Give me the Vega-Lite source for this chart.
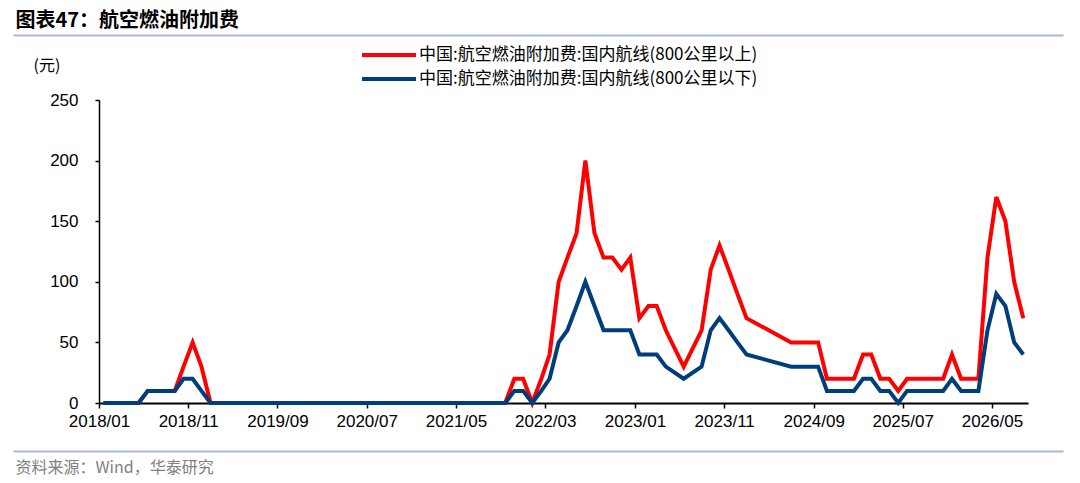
{
  "$schema": "https://vega.github.io/schema/vega-lite/v6.json",
  "width": 929,
  "height": 303,
  "autosize": {"type": "none"},
  "padding": {"left": 99, "top": 100, "right": 52, "bottom": 80},
  "background": "white",
  "config": {
    "font": "Liberation Sans, Noto Sans CJK SC",
    "view": {"stroke": null},
    "axis": {"grid": false}
  },
  "data": {
    "values": [
      {"d": "2018/01/16", "a": 0, "b": 0},
      {"d": "2018/02/16", "a": 0, "b": 0},
      {"d": "2018/03/16", "a": 0, "b": 0},
      {"d": "2018/04/16", "a": 0, "b": 0},
      {"d": "2018/05/16", "a": 0, "b": 0},
      {"d": "2018/06/16", "a": 10, "b": 10},
      {"d": "2018/07/16", "a": 10, "b": 10},
      {"d": "2018/08/16", "a": 10, "b": 10},
      {"d": "2018/09/16", "a": 10, "b": 10},
      {"d": "2018/10/16", "a": 30, "b": 20},
      {"d": "2018/11/16", "a": 50, "b": 20},
      {"d": "2018/12/16", "a": 30, "b": 10},
      {"d": "2019/01/16", "a": 0, "b": 0},
      {"d": "2019/02/16", "a": 0, "b": 0},
      {"d": "2019/03/16", "a": 0, "b": 0},
      {"d": "2019/04/16", "a": 0, "b": 0},
      {"d": "2019/05/16", "a": 0, "b": 0},
      {"d": "2019/06/16", "a": 0, "b": 0},
      {"d": "2019/07/16", "a": 0, "b": 0},
      {"d": "2019/08/16", "a": 0, "b": 0},
      {"d": "2019/09/16", "a": 0, "b": 0},
      {"d": "2019/10/16", "a": 0, "b": 0},
      {"d": "2019/11/16", "a": 0, "b": 0},
      {"d": "2019/12/16", "a": 0, "b": 0},
      {"d": "2020/01/16", "a": 0, "b": 0},
      {"d": "2020/02/16", "a": 0, "b": 0},
      {"d": "2020/03/16", "a": 0, "b": 0},
      {"d": "2020/04/16", "a": 0, "b": 0},
      {"d": "2020/05/16", "a": 0, "b": 0},
      {"d": "2020/06/16", "a": 0, "b": 0},
      {"d": "2020/07/16", "a": 0, "b": 0},
      {"d": "2020/08/16", "a": 0, "b": 0},
      {"d": "2020/09/16", "a": 0, "b": 0},
      {"d": "2020/10/16", "a": 0, "b": 0},
      {"d": "2020/11/16", "a": 0, "b": 0},
      {"d": "2020/12/16", "a": 0, "b": 0},
      {"d": "2021/01/16", "a": 0, "b": 0},
      {"d": "2021/02/16", "a": 0, "b": 0},
      {"d": "2021/03/16", "a": 0, "b": 0},
      {"d": "2021/04/16", "a": 0, "b": 0},
      {"d": "2021/05/16", "a": 0, "b": 0},
      {"d": "2021/06/16", "a": 0, "b": 0},
      {"d": "2021/07/16", "a": 0, "b": 0},
      {"d": "2021/08/16", "a": 0, "b": 0},
      {"d": "2021/09/16", "a": 0, "b": 0},
      {"d": "2021/10/16", "a": 0, "b": 0},
      {"d": "2021/11/16", "a": 20, "b": 10},
      {"d": "2021/12/16", "a": 20, "b": 10},
      {"d": "2022/01/16", "a": 0, "b": 0},
      {"d": "2022/02/16", "a": 20, "b": 10},
      {"d": "2022/03/16", "a": 40, "b": 20},
      {"d": "2022/04/16", "a": 100, "b": 50},
      {"d": "2022/05/16", "a": 120, "b": 60},
      {"d": "2022/06/16", "a": 140, "b": 80},
      {"d": "2022/07/16", "a": 200, "b": 100},
      {"d": "2022/08/16", "a": 140, "b": 80},
      {"d": "2022/09/16", "a": 120, "b": 60},
      {"d": "2022/10/16", "a": 120, "b": 60},
      {"d": "2022/11/16", "a": 110, "b": 60},
      {"d": "2022/12/16", "a": 120, "b": 60},
      {"d": "2023/01/16", "a": 70, "b": 40},
      {"d": "2023/02/16", "a": 80, "b": 40},
      {"d": "2023/03/16", "a": 80, "b": 40},
      {"d": "2023/04/16", "a": 60, "b": 30},
      {"d": "2023/06/16", "a": 30, "b": 20},
      {"d": "2023/08/16", "a": 60, "b": 30},
      {"d": "2023/09/16", "a": 110, "b": 60},
      {"d": "2023/10/16", "a": 130, "b": 70},
      {"d": "2023/11/16", "a": 110, "b": 60},
      {"d": "2023/12/16", "a": 90, "b": 50},
      {"d": "2024/01/16", "a": 70, "b": 40},
      {"d": "2024/06/16", "a": 50, "b": 30},
      {"d": "2024/07/16", "a": 50, "b": 30},
      {"d": "2024/08/16", "a": 50, "b": 30},
      {"d": "2024/09/16", "a": 50, "b": 30},
      {"d": "2024/10/16", "a": 20, "b": 10},
      {"d": "2024/11/16", "a": 20, "b": 10},
      {"d": "2024/12/16", "a": 20, "b": 10},
      {"d": "2025/01/16", "a": 20, "b": 10},
      {"d": "2025/02/16", "a": 40, "b": 20},
      {"d": "2025/03/16", "a": 40, "b": 20},
      {"d": "2025/04/16", "a": 20, "b": 10},
      {"d": "2025/05/16", "a": 20, "b": 10},
      {"d": "2025/06/16", "a": 10, "b": 0},
      {"d": "2025/07/16", "a": 20, "b": 10},
      {"d": "2025/08/16", "a": 20, "b": 10},
      {"d": "2025/09/16", "a": 20, "b": 10},
      {"d": "2025/10/16", "a": 20, "b": 10},
      {"d": "2025/11/16", "a": 20, "b": 10},
      {"d": "2025/12/16", "a": 40, "b": 20},
      {"d": "2026/01/16", "a": 20, "b": 10},
      {"d": "2026/02/16", "a": 20, "b": 10},
      {"d": "2026/03/16", "a": 20, "b": 10},
      {"d": "2026/04/16", "a": 120, "b": 60},
      {"d": "2026/05/16", "a": 170, "b": 90},
      {"d": "2026/06/16", "a": 150, "b": 80},
      {"d": "2026/07/16", "a": 100, "b": 50},
      {"d": "2026/08/16", "a": 70, "b": 40}
    ]
  },
  "transform": [{"fold": ["a", "b"], "as": ["series", "value"]}],
  "layer": [
    {
      "mark": {"type": "line", "strokeWidth": 4},
      "encoding": {
        "x": {
          "field": "d",
          "type": "temporal",
          "scale": {
            "domain": [
              {"year": 2018, "month": 1, "date": 1},
              {"year": 2026, "month": 9, "date": 1}
            ]
          },
          "axis": {
            "orient": "bottom",
            "title": null,
            "format": "%Y/%m",
            "values": [
              {"year": 2018, "month": 1, "date": 1},
              {"year": 2018, "month": 11, "date": 1},
              {"year": 2019, "month": 9, "date": 1},
              {"year": 2020, "month": 7, "date": 1},
              {"year": 2021, "month": 5, "date": 1},
              {"year": 2022, "month": 3, "date": 1},
              {"year": 2023, "month": 1, "date": 1},
              {"year": 2023, "month": 11, "date": 1},
              {"year": 2024, "month": 9, "date": 1},
              {"year": 2025, "month": 7, "date": 1},
              {"year": 2026, "month": 5, "date": 1}
            ],
            "labelFont": "Liberation Sans",
            "labelFontSize": 17,
            "labelColor": "#000",
            "labelPadding": 5,
            "labelFlush": false,
            "labelOverlap": false,
            "tickColor": "#000",
            "tickSize": 5,
            "tickWidth": 1.5,
            "domainColor": "#000",
            "domainWidth": 2
          }
        },
        "y": {
          "field": "value",
          "type": "quantitative",
          "scale": {"domain": [0, 250], "nice": false},
          "axis": {
            "title": "(元)",
            "titleAngle": 0,
            "titleX": -66,
            "titleY": -35,
            "titleAlign": "left",
            "titleBaseline": "middle",
            "titleFontWeight": "normal",
            "titleFontSize": 16,
            "titleColor": "#000",
            "titleFont": "Noto Sans CJK SC",
            "values": [0, 50, 100, 150, 200, 250],
            "labelFont": "Liberation Sans",
            "labelFontSize": 17,
            "labelColor": "#000",
            "labelPadding": 17,
            "tickColor": "#000",
            "tickSize": 4,
            "tickWidth": 1.5,
            "domainColor": "#000",
            "domainWidth": 1.5
          }
        },
        "color": {
          "field": "series",
          "type": "nominal",
          "scale": {"domain": ["a", "b"], "range": ["#ff0000", "#003d7c"]},
          "legend": {
            "orient": "none",
            "legendX": 278,
            "legendY": -57,
            "title": null,
            "symbolType": "M-2.7,0H2.7",
            "symbolSize": 400,
            "symbolStrokeWidth": 4,
            "symbolFillColor": "transparent",
            "labelFont": "Noto Sans CJK SC",
            "labelFontSize": 17,
            "labelColor": "#000",
            "labelOffset": 18,
            "labelLimit": 500,
            "rowPadding": 4,
            "labelExpr": "datum.label == 'a' ? '中国:航空燃油附加费:国内航线(800公里以上)' : '中国:航空燃油附加费:国内航线(800公里以下)'"
          }
        }
      }
    },
    {
      "mark": {"type": "point", "opacity": 0},
      "encoding": {
        "x": {
          "field": "d",
          "type": "temporal",
          "scale": {"range": [-86, 964]},
          "axis": {
            "orient": "top",
            "offset": 65,
            "labels": false,
            "ticks": false,
            "domainColor": "#a9bcd5",
            "domainWidth": 2,
            "title": "图表47：航空燃油附加费",
            "titleX": -84,
            "titleY": -15,
            "titleAlign": "left",
            "titleBaseline": "middle",
            "titleFont": "Noto Sans CJK SC",
            "titleFontSize": 20,
            "titleFontWeight": "bold",
            "titleColor": "#000"
          }
        }
      }
    },
    {
      "mark": {"type": "point", "opacity": 0},
      "encoding": {
        "x": {
          "field": "d",
          "type": "temporal",
          "scale": {"range": [-86, 964]},
          "axis": {
            "orient": "bottom",
            "offset": 48,
            "labels": false,
            "ticks": false,
            "domainColor": "#a9bcd5",
            "domainWidth": 2,
            "title": "资料来源：Wind，华泰研究",
            "titleX": -84,
            "titleY": 16,
            "titleAlign": "left",
            "titleBaseline": "middle",
            "titleFont": "Noto Sans CJK SC",
            "titleFontSize": 16,
            "titleFontWeight": "normal",
            "titleColor": "#808080"
          }
        }
      }
    }
  ],
  "resolve": {"scale": {"x": "independent"}, "axis": {"x": "independent"}}
}
